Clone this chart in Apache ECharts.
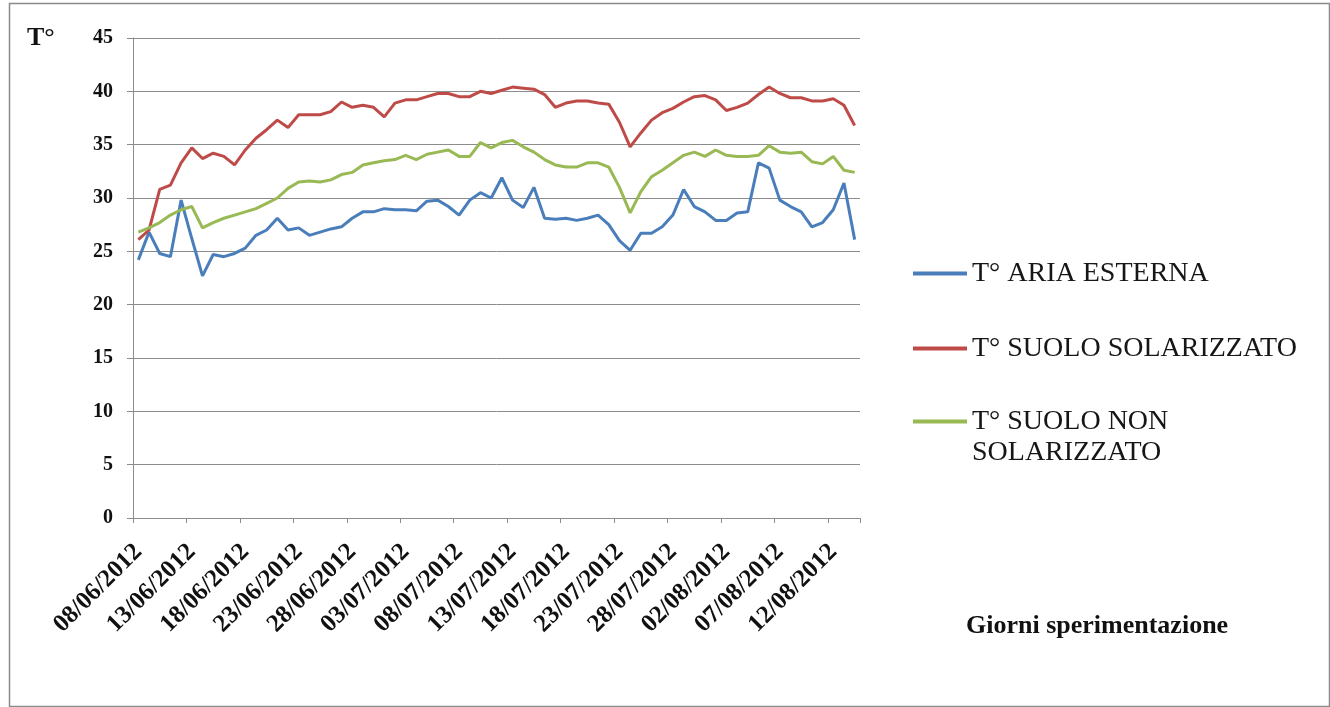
<!DOCTYPE html>
<html>
<head>
<meta charset="utf-8">
<script src="https://cdn.jsdelivr.net/npm/echarts@6/dist/echarts.min.js"></script>
<style>
  html, body { margin: 0; padding: 0; background: #ffffff; }
  #chart { width: 1330px; height: 707px; }
</style>
</head>
<body>
<div id="chart"></div>
<script>
// Giorni di sperimentazione (08/06/2012 - 14/08/2012)
const dates = [
  '08/06/2012','09/06/2012','10/06/2012','11/06/2012','12/06/2012','13/06/2012','14/06/2012','15/06/2012','16/06/2012','17/06/2012',
  '18/06/2012','19/06/2012','20/06/2012','21/06/2012','22/06/2012','23/06/2012','24/06/2012','25/06/2012','26/06/2012','27/06/2012',
  '28/06/2012','29/06/2012','30/06/2012','01/07/2012','02/07/2012','03/07/2012','04/07/2012','05/07/2012','06/07/2012','07/07/2012',
  '08/07/2012','09/07/2012','10/07/2012','11/07/2012','12/07/2012','13/07/2012','14/07/2012','15/07/2012','16/07/2012','17/07/2012',
  '18/07/2012','19/07/2012','20/07/2012','21/07/2012','22/07/2012','23/07/2012','24/07/2012','25/07/2012','26/07/2012','27/07/2012',
  '28/07/2012','29/07/2012','30/07/2012','31/07/2012','01/08/2012','02/08/2012','03/08/2012','04/08/2012','05/08/2012','06/08/2012',
  '07/08/2012','08/08/2012','09/08/2012','10/08/2012','11/08/2012','12/08/2012','13/08/2012','14/08/2012'
];

// Temperature medie giornaliere (°C)
const ariaEsterna = [
  24.2, 26.8, 24.8, 24.5, 29.8, 26.2, 22.7, 24.7, 24.5, 24.8,
  25.3, 26.5, 27.0, 28.1, 27.0, 27.2, 26.5, 26.8, 27.1, 27.3,
  28.1, 28.7, 28.7, 29.0, 28.9, 28.9, 28.8, 29.7, 29.8, 29.2,
  28.4, 29.8, 30.5, 30.0, 31.9, 29.8, 29.1, 31.0, 28.1, 28.0,
  28.1, 27.9, 28.1, 28.4, 27.5, 26.0, 25.1, 26.7, 26.7, 27.3,
  28.4, 30.8, 29.2, 28.7, 27.9, 27.9, 28.6, 28.7, 33.3, 32.8,
  29.8, 29.2, 28.7, 27.3, 27.7, 28.9, 31.4, 26.1
];
const suoloSolarizzato = [
  26.1, 27.0, 30.8, 31.2, 33.3, 34.7, 33.7, 34.2, 33.9, 33.1,
  34.5, 35.6, 36.4, 37.3, 36.6, 37.8, 37.8, 37.8, 38.1, 39.0,
  38.5, 38.7, 38.5, 37.6, 38.9, 39.2, 39.2, 39.5, 39.8, 39.8,
  39.5, 39.5, 40.0, 39.8, 40.1, 40.4, 40.3, 40.2, 39.7, 38.5,
  38.9, 39.1, 39.1, 38.9, 38.8, 37.1, 34.8, 36.1, 37.3, 38.0,
  38.4, 39.0, 39.5, 39.6, 39.2, 38.2, 38.5, 38.9, 39.7, 40.4,
  39.8, 39.4, 39.4, 39.1, 39.1, 39.3, 38.7, 36.8
];
const suoloNonSolarizzato = [
  26.8, 27.2, 27.7, 28.4, 28.9, 29.2, 27.2, 27.7, 28.1, 28.4,
  28.7, 29.0, 29.5, 30.0, 30.9, 31.5, 31.6, 31.5, 31.7, 32.2,
  32.4, 33.1, 33.3, 33.5, 33.6, 34.0, 33.6, 34.1, 34.3, 34.5,
  33.9, 33.9, 35.2, 34.7, 35.2, 35.4, 34.8, 34.3, 33.6, 33.1,
  32.9, 32.9, 33.3, 33.3, 32.9, 31.0, 28.6, 30.6, 32.0, 32.6,
  33.3, 34.0, 34.3, 33.9, 34.5, 34.0, 33.9, 33.9, 34.0, 34.9,
  34.3, 34.2, 34.3, 33.4, 33.2, 33.9, 32.6, 32.4
];

const seriesNames = ['T° ARIA ESTERNA', 'T° SUOLO SOLARIZZATO', 'T° SUOLO NON SOLARIZZATO'];
const yTicks = { min: 0, max: 45, step: 5 };

const SERIF = '"Liberation Serif", "DejaVu Serif", serif';
const GRID_COLOR = '#8c8c8c';
const COLORS = ['#4a7ebb', '#be4b48', '#98b954'];

const chart = echarts.init(document.getElementById('chart'), null, { renderer: 'canvas' });

function legendBlock(name, top, label) {
  return {
    data: [{ name: name, icon: 'rect' }],
    orient: 'vertical',
    left: 913,
    top: top,
    itemWidth: 54,
    itemHeight: 4,
    itemGap: 0,
    padding: 0,
    selectedMode: false,
    formatter: label ? function () { return label; } : undefined,
    textStyle: {
      fontFamily: SERIF,
      fontSize: 28,
      color: '#161616',
      lineHeight: 31
    }
  };
}

// the blank first line keeps the key line level with "T° SUOLO NON"
const legend3 = legendBlock(seriesNames[2], 375, ' \nT° SUOLO NON\nSOLARIZZATO');

chart.setOption({
  animation: false,
  backgroundColor: '#ffffff',
  grid: { left: 133, right: 470, top: 38, bottom: 189, containLabel: false },
  legend: [
    legendBlock(seriesNames[0], 258),
    legendBlock(seriesNames[1], 333),
    legend3
  ],
  xAxis: {
    type: 'category',
    data: dates,
    boundaryGap: true,
    axisLine: { lineStyle: { color: GRID_COLOR, width: 1 } },
    axisTick: { show: true, interval: 4, length: 5, lineStyle: { color: GRID_COLOR } },
    axisLabel: {
      interval: 4,
      rotate: 45,
      margin: 30,
      fontFamily: SERIF,
      fontWeight: 'bold',
      fontSize: 25,
      color: '#111111'
    },
    splitLine: { show: false }
  },
  yAxis: {
    type: 'value',
    min: yTicks.min,
    max: yTicks.max,
    interval: yTicks.step,
    axisLine: { show: true, lineStyle: { color: GRID_COLOR, width: 1 } },
    axisTick: { show: true, length: 6, lineStyle: { color: GRID_COLOR } },
    axisLabel: {
      margin: 20,
      fontFamily: SERIF,
      fontWeight: 'bold',
      fontSize: 20,
      color: '#111111'
    },
    splitLine: { show: true, lineStyle: { color: GRID_COLOR, width: 1 } }
  },
  series: [
    { name: seriesNames[0], type: 'line', data: ariaEsterna, showSymbol: false, symbol: 'none',
      lineStyle: { width: 3, color: COLORS[0] }, itemStyle: { color: COLORS[0] } },
    { name: seriesNames[1], type: 'line', data: suoloSolarizzato, showSymbol: false, symbol: 'none',
      lineStyle: { width: 3, color: COLORS[1] }, itemStyle: { color: COLORS[1] } },
    { name: seriesNames[2], type: 'line', data: suoloNonSolarizzato, showSymbol: false, symbol: 'none',
      lineStyle: { width: 3, color: COLORS[2] }, itemStyle: { color: COLORS[2] } }
  ],
  graphic: [
    // cornice esterna del grafico
    { type: 'rect', left: 7, top: 1, shape: { x: 0, y: 0, width: 1320, height: 703 },
      style: { fill: 'none', stroke: '#8a8a8a', lineWidth: 1.5 }, silent: true },
    // unità dell'asse verticale
    { type: 'text', left: 27, top: 25,
      style: { text: 'T°', fontFamily: SERIF, fontWeight: 'bold', fontSize: 26, fill: '#111111' } },
    // titolo dell'asse orizzontale
    { type: 'text', left: 966, top: 613,
      style: { text: 'Giorni sperimentazione', fontFamily: SERIF, fontWeight: 'bold', fontSize: 26, fill: '#111111' } }
  ]
});
</script>
</body>
</html>
